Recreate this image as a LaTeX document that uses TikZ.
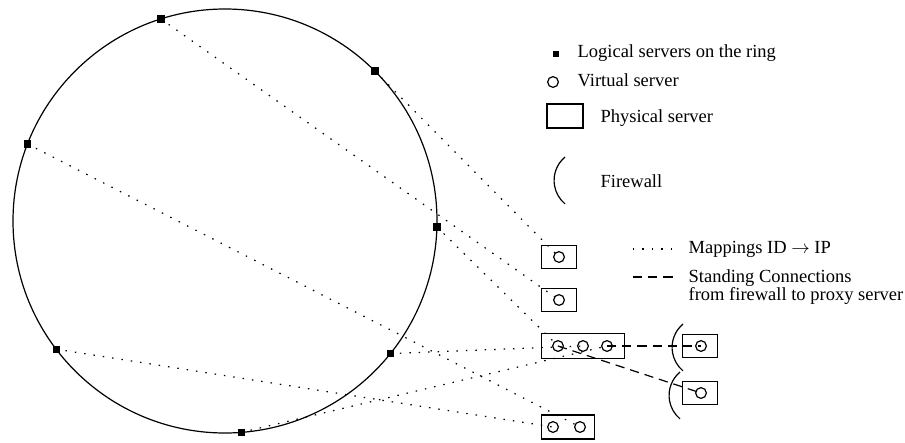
\documentclass[tikz,border=0pt]{standalone}
\usepackage{fontspec}
\setmainfont{Liberation Serif}
\usetikzlibrary{positioning}

\begin{document}
\begin{tikzpicture}[scale=0.19, >=latex, line width=0.65pt,
    logical/.style={rectangle, fill=black, inner sep=0pt, minimum size=3.9pt},
    virtual/.style={circle, draw, inner sep=0pt, minimum size=5.8pt},
    physical/.style={rectangle, draw, inner sep=0pt, minimum width=18.9pt, minimum height=12.4pt},
    mapping/.style={dash pattern=on 0.8pt off 4.3pt},
    standing/.style={dash pattern=on 5pt off 3.2pt},
    keytext/.style={anchor=base west, inner sep=0pt}]
  \path[use as bounding box] (0, 0) rectangle (90.5, 44.2);

  % the ring with its logical servers
  \draw (22.5, 22.1) circle (21.2);
  \foreach \a/\n in {107.6/1, 45/2, 158.7/3, -1.6/4, 217.2/5, -38.7/6, -85.6/7} {
    \node[logical] (l\n) at ({22.5 + 21.2*cos(\a)}, {22.1 + 21.2*sin(\a)}) {};
  }

  % physical servers and their virtual servers
  \node[physical] (pA) at (55.9, 18.5) {};
  \node[virtual] (vA) at (55.9, 18.5) {};
  \node[physical] (pB) at (55.9, 14.2) {};
  \node[virtual] (vB) at (55.9, 14.2) {};
  \node[physical, minimum width=45pt, minimum height=13.3pt] (pC) at (58.3, 9.6) {};
  \foreach \x/\n in {55.8/1, 58.3/2, 60.7/3} {
    \node[virtual] (vC\n) at (\x, 9.6) {};
  }
  \node[physical, minimum width=29pt, minimum height=13pt] (pD) at (56.8, 1.5) {};
  \node[virtual] (vD1) at (55.3, 1.5) {};
  \node[virtual] (vD2) at (58.0, 1.5) {};
  \node[physical] (pE) at (70.0, 9.6) {};
  \node[virtual] (vE) at (70.1, 9.6) {};
  \node[physical] (pF) at (70.0, 4.9) {};
  \node[virtual] (vF) at (70.1, 4.9) {};

  % firewall
  \draw (68.3, 11.8) arc[start angle=130, end angle=230, radius=3.06];
  \draw (68.0, 7.0) arc[start angle=130, end angle=230, radius=3.06];

  % mappings ID -> IP
  \foreach \l/\v in {1/vB, 2/vA, 3/vD2, 4/vC1, 5/vD1, 6/vC2, 7/vC3} {
    \draw[mapping] (l\l.center) -- (\v.center);
  }

  % standing connections
  \draw[standing] (vC3.center) -- (vE.center);
  \draw[standing] (vC1.center) -- (vF.center);

  % legend
  \node[logical, minimum size=3pt] (keylogical) at (55.6, 38.8) {};
  \node[keytext] (tlogical) at (57.7, 38.5) {Logical servers on the ring};
  \node[virtual] (keyvirtual) at (55.3, 36.0) {};
  \node[keytext] (tvirtual) at (57.7, 35.6) {Virtual server};
  \node[physical, minimum width=19.4pt, minimum height=13pt] (keyphysical) at (56.5, 32.6) {};
  \node[keytext] (tphysical) at (60.0, 32.0) {Physical server};
  \draw (56.5, 28.5) arc[start angle=130, end angle=230, radius=3.06];
  \node[keytext] (tfirewall) at (60.0, 25.5) {Firewall};
  \draw[mapping] (63.3, 19.3) -- (67.5, 19.3);
  \node[keytext] (tmapping) at (68.8, 18.9) {Mappings ID $\rightarrow$ IP};
  \draw[standing] (63.3, 16.5) -- (67.5, 16.5);
  \node[keytext, align=left, font=\fontsize{10}{9.2}\selectfont] (tstanding) at (68.8, 14.2)
    {Standing Connections\\from firewall to proxy server};
\end{tikzpicture}
\end{document}
